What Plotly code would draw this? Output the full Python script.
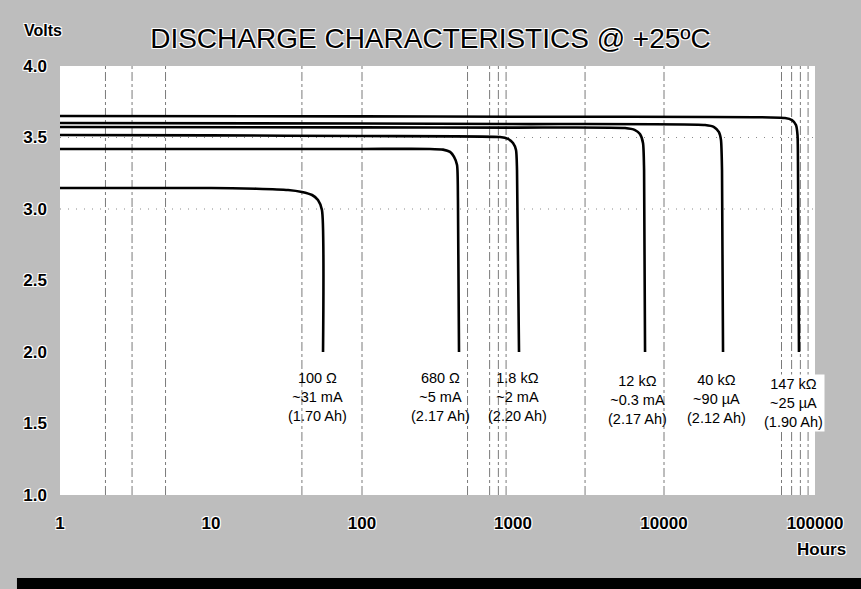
import numpy as np
import plotly.graph_objects as go

# ---------------- data ----------------
hours_100 = [1, 10, 20, 32.4, 40, 46.7, 51.1, 54.3, 55.2]
volts_100 = [3.147, 3.147, 3.142, 3.133, 3.119, 3.098, 3.063, 2.993, 2.0]

hours_680 = [1, 10, 100, 282, 344, 383, 407, 426, 432, 439]
volts_680 = [3.42, 3.42, 3.42, 3.42, 3.415, 3.399, 3.364, 3.308, 3.063, 2.0]

hours_1k8 = [1, 10, 100, 820, 927, 1000, 1047, 1063, 1096]
volts_1k8 = [3.517, 3.515, 3.51, 3.503, 3.49, 3.462, 3.413, 3.273, 2.0]

hours_12k = [1, 100, 1000, 5520, 6430, 6930, 7260, 7380, 7490]
volts_12k = [3.573, 3.571, 3.569, 3.566, 3.552, 3.524, 3.462, 3.273, 2.0]

hours_40k = [1, 100, 1000, 18700, 21450, 23120, 23840, 24220, 24600]
volts_40k = [3.601, 3.598, 3.594, 3.587, 3.573, 3.538, 3.483, 3.273, 2.0]

hours_147k = [1, 100, 1000, 63300, 70400, 74800, 76600, 77200, 78300]
volts_147k = [3.650, 3.648, 3.645, 3.636, 3.622, 3.587, 3.517, 3.273, 2.0]

curve_labels = [
    "100 Ω<br>~31 mA<br>(1.70 Ah)",
    "680 Ω<br>~5 mA<br>(2.17 Ah)",
    "1.8 kΩ<br>~2 mA<br>(2.20 Ah)",
    "12 kΩ<br>~0.3 mA<br>(2.17 Ah)",
    "40 kΩ<br>~90 µA<br>(2.12 Ah)",
    "147 kΩ<br>~25 µA<br>(1.90 Ah)",
]

x_tick_vals = [1, 10, 100, 1000, 10000, 100000]
x_tick_text = ["1", "10", "100", "1000", "10000", "100000"]
y_tick_vals = [1.0, 1.5, 2.0, 2.5, 3.0, 3.5, 4.0]
y_tick_text = ["1.0", "1.5", "2.0", "2.5", "3.0", "3.5", "4.0"]

v_grid_hours = [2, 3, 5, 40, 100, 500, 700, 800, 900, 3000, 10000, 60000, 70000, 80000, 90000]
h_grid_volts = [3.0, 3.5]

title_text = "DISCHARGE CHARACTERISTICS @ +25ºC"

# ---------------- layout helpers (positions kept separate) ----------------
label_hours = [50.4, 329, 1063, 6630, 22400, 71500]
label_volts = [1.685, 1.685, 1.685, 1.664, 1.671, 1.643]

FONT = "Liberation Sans, Arial, sans-serif"
HALO = "-1px -1px 0 #fff, 1px -1px 0 #fff, -1px 1px 0 #fff, 1px 1px 0 #fff"

fig = go.Figure()

# vertical grid lines
gx, gy = [], []
for h in v_grid_hours:
    gx += [h, h, None]
    gy += [1.0, 4.0, None]
fig.add_trace(go.Scatter(x=gx, y=gy, mode="lines",
                         line=dict(color="#7a7a7a", width=1, dash="dashdot"),
                         hoverinfo="skip"))
# horizontal dotted grid lines
hx, hy = [], []
for v in h_grid_volts:
    hx += [1, 100000, None]
    hy += [v, v, None]
fig.add_trace(go.Scatter(x=hx, y=hy, mode="lines",
                         line=dict(color="#8a8a8a", width=1, dash="1px,7px"),
                         hoverinfo="skip"))

curves = [(hours_100, volts_100), (hours_680, volts_680), (hours_1k8, volts_1k8),
          (hours_12k, volts_12k), (hours_40k, volts_40k), (hours_147k, volts_147k)]
for hx_, vy_ in curves:
    fig.add_trace(go.Scatter(x=hx_, y=vy_, mode="lines",
                             line=dict(color="black", width=2.6, shape="spline", smoothing=0.6)))

for i, (txt, lh, lv) in enumerate(zip(curve_labels, label_hours, label_volts)):
    fig.add_annotation(x=np.log10(lh), y=lv, xref="x", yref="y", text=txt,
                       showarrow=False, align="center", xanchor="center", yanchor="middle",
                       font=dict(family=FONT, size=14.5, color="black"),
                       bgcolor="white" if i == 5 else None, borderpad=1)

fig.add_annotation(x=-0.0225, y=1.0816, xref="paper", yref="paper", text="Volts",
                   showarrow=False, xanchor="center", yanchor="middle",
                   font=dict(family=FONT, size=16, color="black", weight="bold", shadow=HALO))
fig.add_annotation(x=1.008, y=-0.126, xref="paper", yref="paper", text="Hours",
                   showarrow=False, xanchor="center", yanchor="middle",
                   font=dict(family=FONT, size=17, color="black", weight="bold", shadow=HALO))

# black bar at the bottom
fig.add_shape(type="rect", xref="paper", yref="paper", x0=-0.057, x1=1.07, y0=-0.225, y1=-0.1935,
              fillcolor="black", line=dict(width=0))

fig.update_layout(
    width=861, height=589, autosize=False,
    margin=dict(l=60, r=46, t=66, b=94),
    paper_bgcolor="#bdbdbd", plot_bgcolor="white",
    showlegend=False, hovermode=False,
    title=dict(text=title_text, xref="container", yref="container", x=0.5, y=1 - 38 / 589,
               xanchor="center", yanchor="middle",
               font=dict(family=FONT, size=28, color="black", shadow=HALO)),
    xaxis=dict(type="log", range=[0, 5], tickvals=x_tick_vals, ticktext=x_tick_text,
               showgrid=False, zeroline=False, showline=False, ticks="",
               ticklabelstandoff=16,
               tickfont=dict(family=FONT, size=17, color="black", weight="bold", shadow=HALO)),
    yaxis=dict(range=[1, 4], tickvals=y_tick_vals, ticktext=y_tick_text,
               showgrid=False, zeroline=False, showline=False, ticks="",
               ticklabelstandoff=12,
               tickfont=dict(family=FONT, size=17, color="black", weight="bold", shadow=HALO)),
)

fig.write_html("out.html", config={"displayModeBar": False},
               post_script="document.body.style.margin='0';document.body.style.overflow='hidden';")
